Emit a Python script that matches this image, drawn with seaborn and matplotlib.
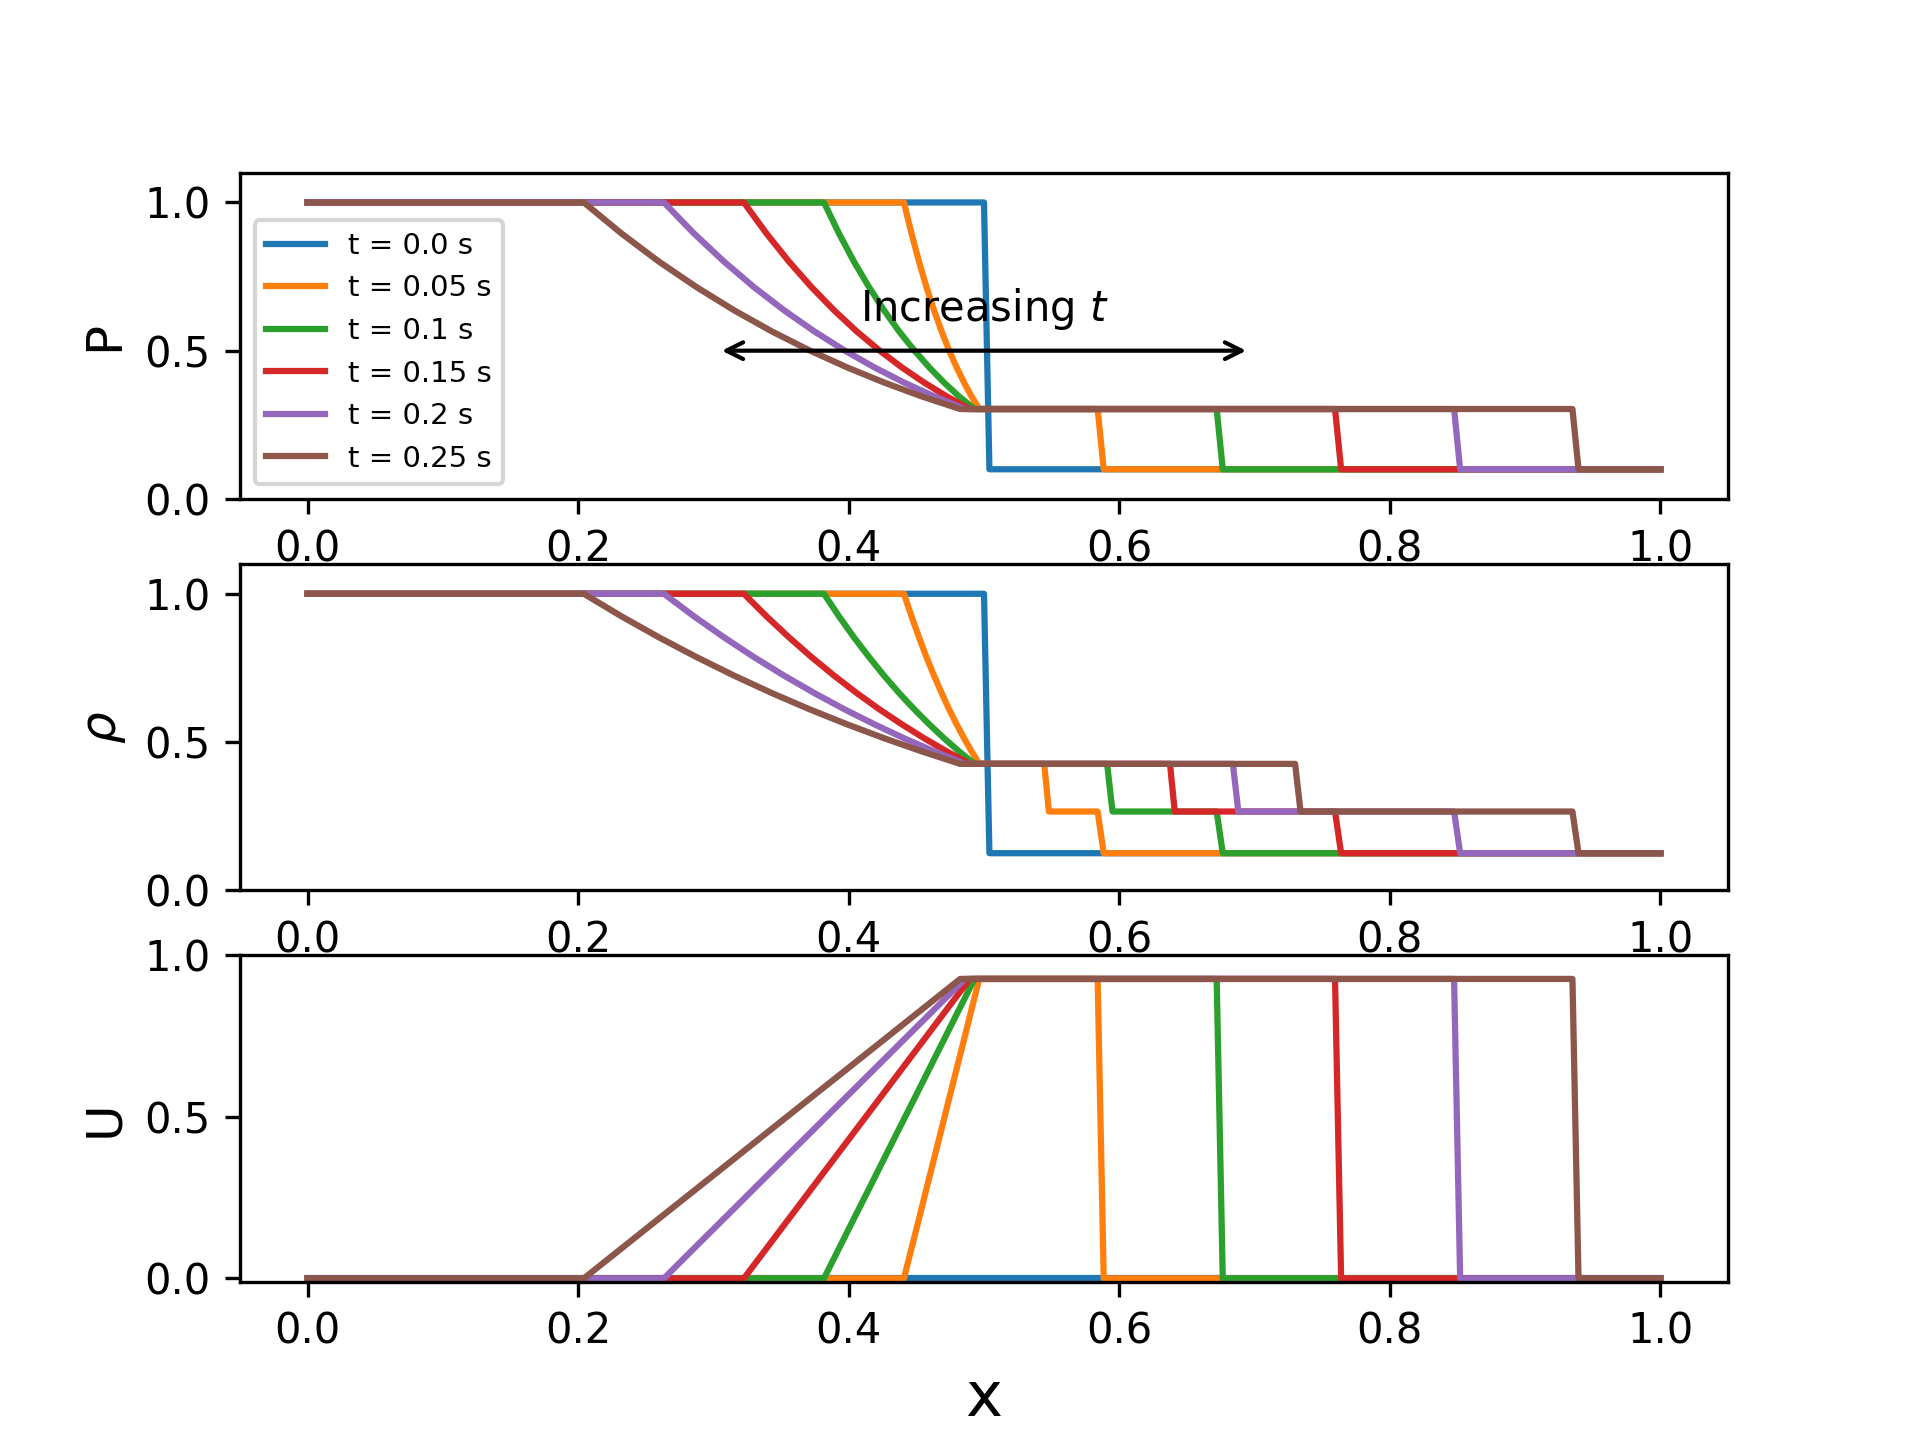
import matplotlib
matplotlib.use("Agg")
import matplotlib.pyplot as plt
import seaborn as sns
import pandas as pd

# Sod shock tube profiles
times = [0.0, 0.05, 0.1, 0.15, 0.2, 0.25]
labels = ["t = 0.0 s", "t = 0.05 s", "t = 0.1 s", "t = 0.15 s", "t = 0.2 s", "t = 0.25 s"]

# t = 0: plain discontinuity at x = 0.5
x_t0 = [0.0, 0.5, 0.504, 1.0]
P_t0 = [1.0, 1.0, 0.1, 0.1]
rho_t0 = [1.0, 1.0, 0.125, 0.125]
U_t0 = [0.0, 0.0, 0.0, 0.0]

# t > 0: x breakpoints (left state, rarefaction fan, contact, shock, right state)
x_t005 = [0.0, 0.4408, 0.4464, 0.4520, 0.4575, 0.4631, 0.4687, 0.4742, 0.4798, 0.4854, 0.4909, 0.4965,
          0.5445, 0.5480, 0.5840, 0.5885, 1.0]
x_t010 = [0.0, 0.3817, 0.3928, 0.4039, 0.4151, 0.4262, 0.4373, 0.4485, 0.4596, 0.4707, 0.4818, 0.4930,
          0.5910, 0.5950, 0.6720, 0.6765, 1.0]
x_t015 = [0.0, 0.3225, 0.3392, 0.3559, 0.3726, 0.3893, 0.4060, 0.4227, 0.4394, 0.4561, 0.4728, 0.4895,
          0.6375, 0.6410, 0.7595, 0.7640, 1.0]
x_t020 = [0.0, 0.2634, 0.2856, 0.3079, 0.3301, 0.3524, 0.3747, 0.3969, 0.4192, 0.4414, 0.4637, 0.4859,
          0.6840, 0.6880, 0.8475, 0.8520, 1.0]
x_t025 = [0.0, 0.2042, 0.2320, 0.2598, 0.2877, 0.3155, 0.3433, 0.3711, 0.3990, 0.4268, 0.4546, 0.4824,
          0.7300, 0.7340, 0.9350, 0.9395, 1.0]

# values at those breakpoints (same self-similar profile for every t > 0)
P_vals = [1.0, 1.0, 0.8953, 0.8001, 0.7138, 0.6356, 0.5647, 0.5008, 0.4432, 0.3914, 0.3448, 0.3032,
          0.3032, 0.3032, 0.3032, 0.1, 0.1]
rho_vals = [1.0, 1.0, 0.9240, 0.8528, 0.7860, 0.7234, 0.6649, 0.6102, 0.5593, 0.5117, 0.4675, 0.4263,
            0.4263, 0.2656, 0.2656, 0.125, 0.125]
U_vals = [0.0, 0.0, 0.0927, 0.1855, 0.2782, 0.3710, 0.4637, 0.5564, 0.6492, 0.7419, 0.8347, 0.9274,
          0.9274, 0.9274, 0.9274, 0.0, 0.0]

x_lists = [x_t0, x_t005, x_t010, x_t015, x_t020, x_t025]

rows = []
for i, xs in enumerate(x_lists):
    if i == 0:
        ps, rs, us = P_t0, rho_t0, U_t0
    else:
        ps, rs, us = P_vals, rho_vals, U_vals
    for x, p, r, u in zip(xs, ps, rs, us):
        rows.append({"t": labels[i], "x": x, "P": p, "rho": r, "U": u})
df = pd.DataFrame(rows)

palette = sns.color_palette("tab10", len(labels))

fig, axes = plt.subplots(3, 1, figsize=(6.4, 4.8))

for ax, col in zip(axes, ["P", "rho", "U"]):
    sns.lineplot(data=df, x="x", y=col, hue="t", hue_order=labels, palette=palette,
                 estimator=None, sort=False, linewidth=1.5, ax=ax, legend=(col == "P"))
    ax.set_xlabel("")
    ax.set_xticks([0.0, 0.2, 0.4, 0.6, 0.8, 1.0])

axes[0].set_ylim(0, 1.1)
axes[1].set_ylim(0, 1.1)
axes[2].set_ylim(-0.01, 1.0)

axes[0].set_ylabel("P", fontsize=12)
axes[1].set_ylabel(r"$\rho$", fontsize=12)
axes[2].set_ylabel("U", fontsize=12)
axes[2].set_xlabel("x", fontsize=15)

axes[0].legend(loc="lower left", fontsize=7)

axes[0].annotate("", xy=(0.3, 0.5), xytext=(0.7, 0.5),
                 arrowprops=dict(arrowstyle="<->", color="black"))
axes[0].text(0.5, 0.6, "Increasing $t$", ha="center", va="baseline", fontsize=10)

plt.savefig("out.png", dpi=300)
